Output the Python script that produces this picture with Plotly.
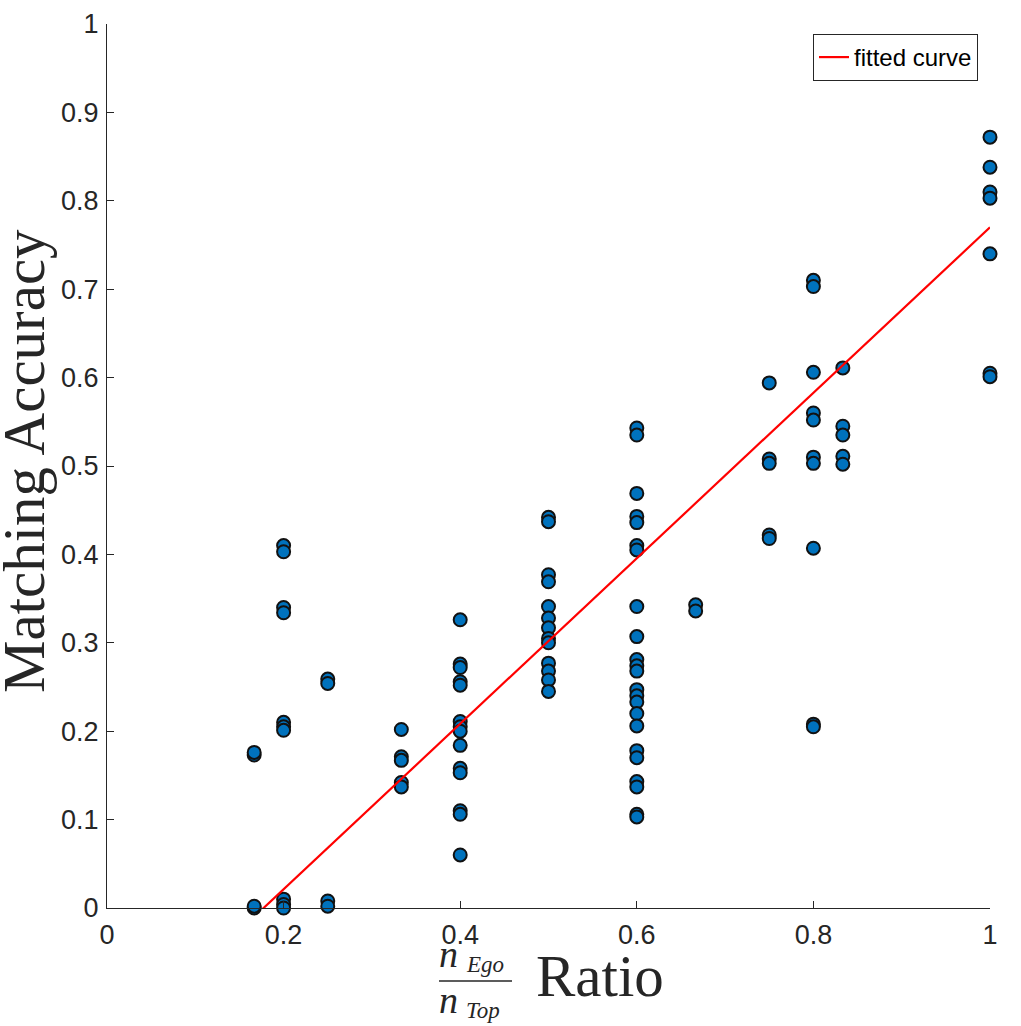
import plotly.graph_objects as go

# ---- data ----
ratios = [1/6, 0.2, 0.25, 1/3, 0.4, 0.5, 0.6, 2/3, 0.75, 0.8, 5/6, 1.0]
acc_r1 = [0.173, 0.176, 0.0, 0.002]
acc_r2 = [0.41, 0.403, 0.34, 0.334, 0.21, 0.205, 0.201, 0.01, 0.004, 0.0]
acc_r3 = [0.259, 0.254, 0.008, 0.002]
acc_r4 = [0.202, 0.171, 0.167, 0.142, 0.137]
acc_r5 = [0.326, 0.276, 0.272, 0.256, 0.252, 0.211, 0.205, 0.2, 0.184,
          0.158, 0.153, 0.11, 0.106, 0.06]
acc_r6 = [0.442, 0.437, 0.377, 0.369, 0.341, 0.328, 0.317, 0.305, 0.3,
          0.277, 0.268, 0.258, 0.245]
acc_r7 = [0.543, 0.535, 0.469, 0.443, 0.436, 0.41, 0.405, 0.341, 0.307,
          0.281, 0.274, 0.268, 0.247, 0.24, 0.233, 0.22, 0.206, 0.178,
          0.17, 0.143, 0.137, 0.106, 0.103]
acc_r8 = [0.343, 0.336]
acc_r9 = [0.594, 0.508, 0.503, 0.422, 0.418]
acc_r10 = [0.71, 0.703, 0.606, 0.56, 0.552, 0.51, 0.503, 0.407, 0.208, 0.205]
acc_r11 = [0.611, 0.545, 0.535, 0.511, 0.502]
acc_r12 = [0.872, 0.838, 0.81, 0.803, 0.74, 0.605, 0.601]

fit_x = [1/6, 1.0]
fit_y = [-0.010, 0.770]

x_ticks = [0, 0.2, 0.4, 0.6, 0.8, 1]
x_tick_labels = ["0", "0.2", "0.4", "0.6", "0.8", "1"]
y_ticks = [0, 0.1, 0.2, 0.3, 0.4, 0.5, 0.6, 0.7, 0.8, 0.9, 1]
y_tick_labels = ["0", "0.1", "0.2", "0.3", "0.4", "0.5", "0.6", "0.7", "0.8", "0.9", "1"]

groups = [acc_r1, acc_r2, acc_r3, acc_r4, acc_r5, acc_r6, acc_r7, acc_r8,
          acc_r9, acc_r10, acc_r11, acc_r12]
xs, ys = [], []
for r, g in zip(ratios, groups):
    xs += [r] * len(g)
    ys += g

# ---- figure (body margin removed in the page, so the figure fills the window) ----
W, H = 1021, 1026
L, T = 107, 24
pw, ph = 883, 884
R, B = W - L - pw, H - T - ph


def px(sx):
    return (sx - L) / pw


def py(sy):
    return (T + ph - sy) / ph


fig = go.Figure()
fig.add_trace(go.Scatter(
    x=xs, y=ys, mode="markers", showlegend=False, cliponaxis=False,
    marker=dict(size=13, color="#0072BD", line=dict(color="#111111", width=2)),
))
fig.add_trace(go.Scatter(
    x=fit_x, y=fit_y, mode="lines", name="fitted curve",
    line=dict(color="#FF0000", width=2.2),
))

axis_common = dict(
    showgrid=False, zeroline=False, showline=True, linecolor="#262626",
    linewidth=1, ticks="inside", ticklen=7, tickcolor="#262626",
    tickfont=dict(family="Liberation Sans, Arial", size=27, color="#262626"),
    mirror=False,
)
fig.update_xaxes(range=[0, 1], tickvals=x_ticks, ticktext=x_tick_labels,
                 ticklabelstandoff=3, **axis_common)
fig.update_yaxes(range=[0, 1], tickvals=y_ticks, ticktext=y_tick_labels,
                 ticklabelstandoff=2, **axis_common)

serif = "Liberation Serif, Times New Roman, serif"
ink = "#262626"


def txt(text, sx, sy, size, xanchor="left", yanchor="bottom", angle=0):
    return dict(text=text, x=px(sx), y=py(sy), xref="paper", yref="paper",
                showarrow=False, textangle=angle, borderpad=0,
                font=dict(family=serif, size=size, color=ink),
                xanchor=xanchor, yanchor=yanchor)


annotations = [
    txt("Matching Accuracy", 24, 461, 59, "center", "middle", -90),
    txt("Ratio", 600, 976, 59, "center", "middle"),
    # fraction n_Ego / n_Top
    txt("<i>n</i>", 438, 976, 38),
    txt("<i>Ego</i>", 465, 978, 23),
    txt("<i>n</i>", 438, 1022, 38),
    txt("<i>Top</i>", 465, 1024, 23),
]
shapes = [
    dict(type="line", xref="paper", yref="paper",
         x0=px(439), x1=px(512), y0=py(981), y1=py(981),
         line=dict(color=ink, width=1.5)),
]

fig.update_layout(
    width=W, height=H,
    margin=dict(l=L, r=R, t=T, b=B, autoexpand=False),
    plot_bgcolor="white", paper_bgcolor="white",
    annotations=annotations, shapes=shapes,
    legend=dict(x=px(978), y=py(34), xanchor="right", yanchor="top",
                bordercolor=ink, borderwidth=1, bgcolor="white",
                font=dict(family="Liberation Sans, Arial", size=24, color="#000000"),
                itemwidth=30, tracegroupgap=0),
)

fig.write_html(
    "out.html",
    config={"displayModeBar": False},
    post_script="document.body.style.margin='0px';document.body.style.overflow='hidden';",
)
